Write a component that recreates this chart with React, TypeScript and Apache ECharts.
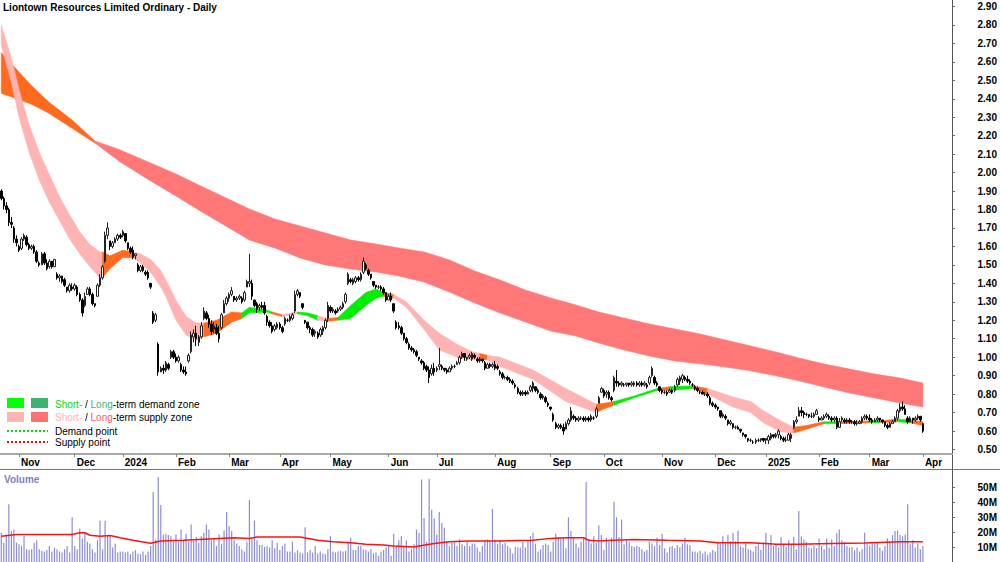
import React, { useEffect, useRef } from "react";
import * as echarts from "echarts";

const TITLE = "Liontown Resources Limited Ordinary - Daily";
const FONT = '"Liberation Sans", Arial, Helvetica, sans-serif';
const FIRST_DAY = "2023-10-23";
const LAST_DAY = "2025-04-01";
const EMPTY_SLOTS = 11;
const HOLIDAYS = [
  "2023-12-25", "2023-12-26", "2024-01-01", "2024-01-26", "2024-03-29", "2024-04-01",
  "2024-04-25", "2024-06-10", "2024-12-25", "2024-12-26", "2025-01-01", "2025-01-27",
];
const MONTHS = ["Jan", "Feb", "Mar", "Apr", "May", "Jun", "Jul", "Aug", "Sep", "Oct", "Nov", "Dec"];

const PRICE_TICKS = [0.5, 0.6, 0.7, 0.8, 0.9, 1.0, 1.1, 1.2, 1.3, 1.4, 1.5, 1.6, 1.7, 1.8, 1.9, 2.0, 2.1, 2.2, 2.3, 2.4, 2.5, 2.6, 2.7, 2.8, 2.9];
const VOLUME_TICKS = [10, 20, 30, 40, 50]; // millions

// daily candles in cents: [open, close, low, high]
const OHLC: number[][] = [
  [190,186,185,191],[186,182,180,187],[182,180,178,184],[180,173,171,181],[173,172,170,176],[170,164,162,171],[164,162,160,166],[160,158,157,161],[159,164,158,165],[164,166,163,167],
  [165,161,160,166],[161,159,158,162],[159,160,158,161],[160,157,156,161],[157,152,151,158],[151,150,149,152],[150,156,150,157],[156,151,150,157],[151,148,147,153],[149,152,148,153],
  [152,149,148,152],[149,153,149,153],[145,143,142,146],[143,144,141,145],[144,141,140,144],[142,139,138,143],[138,136,135,138],[136,139,135,140],[138,137,136,140],[137,139,136,140],
  [138,134,133,139],[134,131,130,135],[131,124,122,132],[128,133,127,135],[134,137,134,138],[137,134,133,138],[134,129,128,135],[129,128,127,129],[133,139,133,140],[139,143,138,145],
  [143,149,142,150],[152,166,151,168],[166,170,164,173],[163,160,158,163],[160,162,159,163],[162,164,162,165],[164,166,163,167],[166,165,164,167],[166,168,165,169],[167,163,162,167],
  [162,159,158,162],[159,157,156,160],[158,154,153,160],[155,156,153,156],[150,147,146,151],[147,149,146,150],[149,147,146,150],[146,145,144,147],[146,143,142,147],[140,138,137,140],
  [124,119,118,125],[120,123,119,124],[107,92,90,108],[92,94,92,95],[94,93,91,96],[93,97,92,98],[96,94,93,97],[100,103,99,104],[103,100,99,104],[100,98,97,102],
  [98,100,97,101],[96,93,92,97],[93,92,91,95],[92,91,90,95],[98,101,97,102],[103,112,102,114],[111,113,108,115],[113,110,106,117],[108,111,106,112],[111,117,110,119],
  [121,125,120,127],[124,121,120,125],[121,118,116,123],[118,114,112,120],[115,117,113,119],[116,113,112,118],[113,110,108,117],[116,123,115,124],[124,129,124,131],[129,132,128,133],
  [132,134,130,135],[134,136,133,138],[133,131,130,133],[131,132,130,133],[132,133,131,134],[132,130,129,133],[131,135,130,136],[138,141,138,142],[140,141,138,156],[140,133,131,142],
  [131,128,127,131],[129,126,124,130],[127,128,125,129],[128,127,126,130],[128,124,123,130],[122,119,117,123],[119,117,116,120],[117,114,113,119],[115,117,114,118],[116,118,115,119],
  [118,116,115,119],[116,114,113,117],[118,121,117,122],[120,120,119,121],[120,122,119,123],[121,123,120,124],[125,134,124,136],[134,136,133,137],[135,133,132,135],[129,127,126,129],
  [120,119,118,120],[119,116,115,119],[116,115,113,117],[115,112,111,116],[113,114,111,115],[113,111,110,114],[112,115,111,116],[114,116,112,117],[116,120,115,121],[121,128,119,130],
  [127,125,124,128],[125,126,124,127],[125,124,123,126],[125,126,124,127],[126,127,125,128],[127,129,126,130],[130,134,129,135],[140,145,139,146],[142,141,140,143],[140,142,139,143],
  [141,143,140,144],[143,142,141,144],[142,145,141,146],[146,152,145,154],[150,148,147,151],[147,145,144,148],[145,143,142,145],[141,139,138,141],[139,138,137,139],[138,138,137,139],
  [138,137,136,139],[137,135,134,138],[135,131,130,135],[131,133,131,134],[133,131,130,135],[129,125,124,129],[119,116,115,120],[117,116,115,119],[116,113,112,117],[113,110,109,113],
  [110,108,107,111],[107,105,104,108],[105,104,103,106],[104,103,102,105],[103,101,100,104],[100,99,98,100],[98,97,96,99],[97,94,93,98],[95,93,92,96],[93,89,86,95],
  [91,94,90,96],[94,92,90,97],[93,94,92,95],[95,96,93,105],[95,94,93,96],[94,93,92,94],[93,92,91,94],[92,94,92,95],[94,95,93,96],[95,95,94,96],
  [96,97,96,98],[97,100,96,101],[100,102,99,103],[102,100,98,102],[99,100,98,100],[100,101,99,102],[99,102,98,103],[101,100,99,102],[99,98,97,100],[98,99,97,100],
  [99,98,97,99],[97,94,93,98],[94,96,94,97],[96,95,94,97],[95,96,94,97],[96,94,93,98],[95,94,93,96],[92,91,90,93],[91,89,88,92],[89,89,88,90],
  [89,88,87,90],[88,87,86,89],[87,86,85,88],[85,84,83,86],[83,81,80,84],[81,80,79,82],[80,81,79,82],[81,80,79,82],[80,81,80,82],[82,84,81,85],
  [83,86,81,87],[84,82,81,84],[82,81,80,83],[80,78,77,81],[78,79,77,80],[78,76,75,79],[75,74,73,76],[73,72,71,73],[69,66,65,70],[64,62,61,65],
  [62,63,61,64],[63,62,61,64],[62,60,58,64],[61,64,61,65],[64,66,63,67],[66,71,65,73],[68,67,66,69],[67,66,65,68],[66,67,65,68],[67,67,66,68],
  [67,66,65,68],[66,67,65,68],[67,66,65,68],[66,68,65,69],[67,67,66,68],[68,72,67,73],[75,78,75,79],[81,83,81,84],[82,79,78,83],[80,81,78,82],
  [81,78,77,82],[78,77,76,79],[82,89,81,90],[87,86,84,93],[86,85,84,87],[85,86,84,87],[85,85,84,86],[85,86,84,86],[86,85,84,86],[85,86,84,87],
  [85,86,84,87],[86,85,84,87],[85,86,84,87],[86,85,84,87],[85,86,84,87],[85,84,83,86],[86,89,85,90],[90,94,89,95],[89,86,85,90],[86,85,84,87],
  [84,82,81,84],[82,81,80,83],[81,81,80,82],[81,80,79,82],[81,82,81,83],[82,81,80,83],[82,84,81,85],[85,88,84,89],[87,89,85,90],[88,90,86,91],
  [89,88,87,90],[88,87,86,90],[87,86,85,88],[85,85,84,86],[84,83,82,85],[83,82,81,84],[81,81,80,82],[81,80,80,82],[80,80,79,81],[80,79,78,81],
  [78,75,74,79],[75,74,73,76],[74,73,72,75],[73,72,71,73],[71,68,67,71],[68,69,67,70],[68,67,66,69],[66,64,63,66],[64,65,63,66],[64,62,61,64],
  [62,62,61,63],[62,61,61,63],[61,60,59,61],[59,58,57,59],[58,57,56,58],[56,55,54,56],[55,55,54,56],[54,54,53,55],[54,55,53,56],[55,55,54,56],
  [55,56,54,56],[56,55,54,56],[55,56,53,56],[55,57,53,58],[56,58,55,59],[58,57,56,58],[57,58,56,59],[58,60,56,61],[57,56,55,58],[56,55,54,57],
  [55,55,54,57],[55,58,55,59],[56,58,54,59],[62,65,61,66],[65,66,64,68],[68,71,68,73],[71,70,68,73],[70,69,67,71],[69,69,68,70],[69,68,67,69],
  [68,68,67,70],[68,69,67,70],[69,71,69,72],[67,66,65,68],[66,67,66,68],[67,68,66,69],[68,69,67,70],[68,67,66,69],[67,66,65,68],[66,67,65,68],
  [67,62,61,68],[62,65,62,67],[66,67,65,68],[66,65,64,67],[65,66,64,67],[66,65,64,67],[65,65,64,66],[65,64,63,66],[64,64,63,66],[64,65,64,66],
  [65,67,64,68],[67,68,66,69],[68,67,66,69],[67,66,65,69],[66,65,64,67],[65,66,65,67],[66,67,65,68],[67,66,65,67],[66,65,64,66],[65,63,62,65],
  [63,62,61,64],[62,64,62,65],[64,65,64,66],[65,67,65,68],[67,71,66,72],[71,73,70,75],[73,72,71,76],[72,69,69,74],[67,65,64,68],[65,67,65,68],
  [67,66,64,67],[66,67,65,68],[67,68,66,69],[68,66,65,68],[64,60,59,64],
];

// daily volume, millions of shares
const VOLUME: number[] = [
  19.7,13.0,18.5,38.8,20.8,21.9,13.0,11.9,10.8,17.4, 8.6,8.0,8.6,13.0,14.6,8.6,7.5,7.1,8.0,10.8,
  7.1,9.7,8.6,7.1,6.4,8.6,10.8,6.4,30.1,10.8, 8.6,22.5,15.9,19.7,13.7,12.4,8.6,6.4,14.6,27.8,
  8.6,27.8,17.4,17.4,9.7,12.4,6.4,7.1,7.1,6.4, 7.1,5.3,7.1,8.0,5.8,5.3,7.1,4.9,7.1,10.8,
  47.2,15.2,57.2,38.4,18.5,19.0,18.1,17.4,13.7,18.5, 13.7,21.9,14.1,19.0,13.7,25.2,14.1,16.8,13.0,17.4,
  19.7,25.2,21.9,14.6,15.9,10.8,18.5,12.4,21.2,33.6, 24.1,20.8,14.6,12.4,10.8,8.6,7.1,13.7,41.7,16.8,
  27.8,14.6,11.5,11.5,10.1,10.8,9.7,14.6,9.3,13.0, 8.0,10.8,12.4,7.1,7.1,13.7,6.4,8.0,6.4,5.8,
  23.4,6.4,8.0,6.4,10.8,5.8,7.1,5.8,5.3,8.6, 17.4,7.1,6.4,7.1,7.5,7.1,7.5,13.7,16.3,8.0,
  8.0,10.8,10.8,8.6,8.0,7.1,8.6,5.8,6.4,4.2, 7.1,8.0,9.7,10.8,4.2,19.0,10.8,14.6,17.4,10.8,
  14.6,7.1,8.6,11.9,21.9,19.7,55.6,29.6,13.7,56.1, 35.1,29.2,18.5,33.6,26.3,23.0,14.1,10.8,13.0,13.7,
  10.8,15.2,11.9,10.8,13.7,10.8,12.4,12.4,9.7,7.1, 10.8,14.6,15.2,14.1,35.8,15.2,12.4,
  14.6,11.9,13.0,10.8,9.3,5.8,10.1,9.7,9.7,13.7, 9.7,14.6,17.4,19.7,12.4,7.1,8.6,11.5,12.4,11.5,
  7.1,13.7,19.0,16.8,15.9,16.3,9.3,30.1,20.8,16.3, 12.4,9.7,13.7,15.9,53.9,15.2,12.4,17.4,13.0,24.7,
  18.1,8.0,16.3,13.7,16.3,40.6,30.1,16.8,28.5,11.9, 14.6,13.7,10.8,10.1,10.8,10.1,8.6,7.1,8.0,13.7,
  12.4,10.8,16.3,11.5,19.0,9.3,6.4,10.1,10.8,9.3, 11.5,10.1,12.4,16.3,11.9,11.5,7.1,7.1,6.4,7.5,
  5.8,7.1,4.9,6.4,8.0,7.1,13.7,11.9,17.4,12.4, 18.1,14.1,19.7,14.1,21.2,10.8,9.7,12.4,8.6,8.0,
  7.1,10.8,11.9,8.0,13.0,19.7,11.9,18.1,10.8,11.9, 9.7,16.8,11.9,10.1,14.6,11.5,16.8,8.6,34.4,17.4,
  15.2,13.7,9.7,9.3,10.8,9.3,15.9,10.8,8.6,15.9, 9.7,15.2,10.8,19.7,21.9,14.6,13.7,10.8,9.7,10.1,
  8.0,9.7,7.1,8.6,19.7,11.9,10.8,12.4,12.4,13.0, 9.7,7.5,10.8,15.9,13.7,18.1,20.8,21.2,18.1,17.4,
  18.5,38.8,11.9,14.6,9.7,12.4,8.6,10.8,
];

// volume moving average, [trading-day index, millions]
const VOLUME_AVG: number[][] = [
  [0,17.4],[6,18.5],[28,18.5],[31,19.7],[33,19.7],[35,18.0],[39,17.4],[43,17.8],[47,16.3],[52,14.6],
  [59,12.6],[63,14.1],[72,14.6],[92,16.3],[98,15.9],[101,16.8],[118,16.8],[125,14.6],[131,13.7],[138,13.0],
  [144,11.9],[151,11.5],[155,10.8],[163,10.1],[165,10.8],[171,12.4],[177,13.7],[184,14.1],[197,14.1],[210,14.6],
  [217,15.9],[223,16.3],[230,16.3],[232,14.6],[236,14.1],[242,14.6],[250,15.2],[263,14.6],[276,14.1],[283,13.0],
  [296,13.0],[302,12.4],[306,11.9],[315,11.9],[328,12.4],[341,12.8],[355,13.7],[364,13.7],
];

// short-term zone edges sampled at trading-day indices; zone code applies to the following segment
const SHORT_IDX = [0,4,7,11,15,19,23,27,31,35,39,40,43,48,52,55,59,63,65,69,73,77,80,85,91,95,98,105,107,111,117,121,125,129,133,138,144,148,151,155,160,167,173,180,186,189,192,197,210,223,235,238,242,250,259,264,273,279,289,296,301,308,313,318,325,330,343,347,354,359,364];
const SHORT_UP = [2.80,2.62,2.45,2.26,2.11,1.99,1.87,1.77,1.68,1.61,1.57,1.57,1.55,1.58,1.57,1.56,1.53,1.47,1.42,1.31,1.22,1.185,1.185,1.20,1.245,1.24,1.27,1.255,1.245,1.23,1.245,1.24,1.225,1.21,1.215,1.28,1.35,1.37,1.35,1.34,1.30,1.20,1.13,1.07,1.03,1.02,1.01,1.00,0.93,0.83,0.745,0.75,0.76,0.79,0.83,0.84,0.845,0.83,0.785,0.76,0.71,0.655,0.62,0.63,0.65,0.65,0.655,0.655,0.665,0.66,0.65];
const SHORT_LO = [2.69,2.49,2.30,2.11,1.96,1.84,1.74,1.64,1.56,1.49,1.43,1.43,1.48,1.54,1.54,1.51,1.46,1.38,1.33,1.20,1.12,1.09,1.11,1.13,1.19,1.21,1.24,1.245,1.235,1.22,1.235,1.225,1.20,1.195,1.20,1.21,1.28,1.32,1.33,1.32,1.27,1.15,1.04,1.00,0.985,0.99,0.985,0.95,0.88,0.76,0.70,0.72,0.74,0.78,0.82,0.82,0.83,0.80,0.73,0.70,0.645,0.595,0.59,0.61,0.64,0.64,0.645,0.645,0.65,0.645,0.63];
const SHORT_ZONE = [
  "P","P","P","P","P","P","P","P","P","P","P",
  "O","O","O","P","P","P","P","P","P","P","P","O","O","O","G","G","G","O","P","G","G","P","O","G","G","G","G","O",
  "P","P","P","P","P","P","O","P","P","P","P","O","O","G","G","O","G","O","P","P","P","P","P","O","O","G","O","G","O","G","O","O",
];

// long-term zone edges
const LONG_IDX = [0,12,19,28,37,47,59,69,78,88,98,108,118,128,138,148,157,167,177,187,197,207,217,227,236,246,256,266,276,286,296,306,315,325,335,345,355,364];
const LONG_UP = [2.65,2.47,2.38,2.285,2.171,2.123,2.052,1.993,1.933,1.868,1.803,1.749,1.711,1.673,1.635,1.613,1.592,1.570,1.527,1.467,1.418,1.364,1.321,1.283,1.245,1.212,1.180,1.153,1.126,1.093,1.061,1.028,0.996,0.963,0.936,0.909,0.887,0.860];
const LONG_LO = [2.43,2.37,2.32,2.24,2.160,2.058,1.955,1.873,1.797,1.716,1.635,1.592,1.538,1.500,1.478,1.462,1.440,1.407,1.353,1.294,1.239,1.191,1.142,1.115,1.077,1.039,1.007,0.980,0.964,0.947,0.926,0.899,0.872,0.839,0.806,0.779,0.752,0.730];
const LONG_ZONE = ["O","O","O","O","R","R","R","R","R","R","R","R","R","R","R","R","R","R","R","R","R","R","R","R","R","R","R","R","R","R","R","R","R","R","R","R","R","R"];

const ZONE_COLORS: Record<string, string> = {
  P: "#ffb4b4",
  O: "#ff6a1f",
  G: "#00ee00",
  R: "#ff7777",
};

function buildDates(): string[] {
  const hol = new Set(HOLIDAYS);
  const out: string[] = [];
  let t = Date.parse(FIRST_DAY + "T00:00:00Z");
  const end = Date.parse(LAST_DAY + "T00:00:00Z");
  while (t <= end) {
    const d = new Date(t);
    const wd = d.getUTCDay();
    const s = d.toISOString().slice(0, 10);
    if (wd !== 0 && wd !== 6 && !hol.has(s)) out.push(s);
    t += 86400000;
  }
  let extra = 0;
  while (extra < EMPTY_SLOTS) {
    const d = new Date(t);
    const wd = d.getUTCDay();
    if (wd !== 0 && wd !== 6) {
      out.push(d.toISOString().slice(0, 10));
      extra++;
    }
    t += 86400000;
  }
  return out;
}

type Run = { color: string; pts: number[][] };

function buildRuns(idx: number[], up: number[], lo: number[], zone: string[]): Run[] {
  const runs: Run[] = [];
  let start = 0;
  for (let k = 0; k < idx.length - 1; k++) {
    const z = zone[k];
    const next = k + 1 < idx.length - 1 ? zone[k + 1] : null;
    if (next !== z) {
      const top: number[][] = [];
      const bot: number[][] = [];
      for (let j = start; j <= k + 1; j++) {
        top.push([idx[j], up[j]]);
        bot.push([idx[j], lo[j]]);
      }
      runs.push({ color: ZONE_COLORS[z], pts: top.concat(bot.reverse()) });
      start = k + 1;
    }
  }
  return runs;
}

function bandSeries(runs: Run[], z: number) {
  return {
    type: "custom",
    xAxisIndex: 0,
    yAxisIndex: 0,
    silent: true,
    z,
    renderItem: (params: any, api: any) => {
      const run = runs[params.dataIndex];
      const points = run.pts.map((p) => api.coord(p));
      return {
        type: "polygon",
        shape: { points },
        style: { fill: run.color, stroke: run.color, lineWidth: 0.6 },
      };
    },
    data: runs.map((r) => [r.pts[0][0], r.pts[0][1]]),
  };
}

export default function App() {
  const ref = useRef<HTMLDivElement>(null);

  useEffect(() => {
    document.body.style.margin = "0";
    if (!ref.current) return;
    const chart = echarts.init(ref.current, null, { renderer: "svg" });

    const dates = buildDates();
    const monthStart = dates.map((d, i) => i > 0 && d.slice(0, 7) !== dates[i - 1].slice(0, 7) && i < OHLC.length);
    const candles = OHLC.map(([o, c, l, h]) => [o / 100, c / 100, l / 100, h / 100]);
    const vols = VOLUME.map((v) => v * 1e6);
    const volAvg = VOLUME_AVG.map(([i, v]) => [i, v * 1e6]);
    const longRuns = buildRuns(LONG_IDX, LONG_UP, LONG_LO, LONG_ZONE);
    const shortRuns = buildRuns(SHORT_IDX, SHORT_UP, SHORT_LO, SHORT_ZONE);

    const pxPerUnit = 184.58;
    const priceMax = 2.9 + 6.5 / pxPerUnit;
    const priceMin = 2.9 - (454 - 6.5) / pxPerUnit;

    const legendRich = (a: string, b: string) => ({
      a: { fill: a, fontSize: 10, fontFamily: FONT },
      b: { fill: b, fontSize: 10, fontFamily: FONT },
    });

    const option: any = {
      animation: false,
      backgroundColor: "#ffffff",
      grid: [
        { left: 0, right: 48, top: 0, height: 454 },
        { left: 0, right: 48, top: 469, height: 93 },
      ],
      xAxis: [
        {
          type: "category",
          gridIndex: 0,
          data: dates,
          boundaryGap: true,
          axisLine: { show: true, lineStyle: { color: "#a8a8a8", width: 2 } },
          axisTick: {
            show: true,
            alignWithLabel: true,
            length: 3,
            interval: (i: number) => monthStart[i],
            lineStyle: { color: "#888" },
          },
          axisLabel: {
            interval: (i: number) => monthStart[i],
            formatter: (v: string) => {
              const m = Number(v.slice(5, 7));
              return m === 1 ? v.slice(0, 4) : MONTHS[m - 1];
            },
            align: "left",
            margin: 3,
            padding: [0, 0, 0, 2],
            fontSize: 10,
            fontWeight: "bold",
            fontFamily: FONT,
            color: "#000",
          },
          splitLine: { show: false },
        },
        {
          type: "category",
          gridIndex: 1,
          data: dates,
          boundaryGap: true,
          axisLine: { show: false },
          axisTick: { show: false },
          axisLabel: { show: false },
          splitLine: { show: false },
        },
      ],
      yAxis: [
        {
          type: "value",
          gridIndex: 0,
          position: "right",
          min: priceMin,
          max: priceMax,
          axisLine: { show: false },
          axisTick: { show: true, length: 3, customValues: PRICE_TICKS, lineStyle: { color: "#666" } },
          axisLabel: {
            customValues: PRICE_TICKS,
            formatter: (v: number) => v.toFixed(2),
            align: "right",
            margin: 45,
            fontSize: 10,
            fontWeight: "bold",
            fontFamily: FONT,
            color: "#000",
          },
          splitLine: { show: false },
        },
        {
          type: "value",
          gridIndex: 1,
          position: "right",
          min: 0,
          max: 62.6e6,
          axisLine: { show: false },
          axisTick: { show: true, length: 3, customValues: VOLUME_TICKS.map((v) => v * 1e6), lineStyle: { color: "#666" } },
          axisLabel: {
            customValues: VOLUME_TICKS.map((v) => v * 1e6),
            formatter: (v: number) => Math.round(v / 1e6) + "M",
            align: "right",
            margin: 45,
            fontSize: 10,
            fontWeight: "bold",
            fontFamily: FONT,
            color: "#000",
          },
          splitLine: { show: false },
        },
      ],
      series: [
        bandSeries(longRuns, 1),
        bandSeries(shortRuns, 2),
        {
          type: "candlestick",
          xAxisIndex: 0,
          yAxisIndex: 0,
          z: 3,
          barWidth: 2,
          data: candles,
          itemStyle: {
            color: "#ffffff",
            color0: "#000000",
            borderColor: "#222222",
            borderColor0: "#000000",
            borderWidth: 1,
          },
        },
        {
          type: "bar",
          xAxisIndex: 1,
          yAxisIndex: 1,
          barWidth: 1.2,
          data: vols,
          itemStyle: { color: "#8c8cd8" },
        },
        {
          type: "line",
          xAxisIndex: 1,
          yAxisIndex: 1,
          data: volAvg,
          showSymbol: false,
          lineStyle: { color: "#ff1010", width: 1.5 },
          z: 4,
        },
      ],
      graphic: [
        {
          type: "text",
          x: 3,
          y: 7,
          style: { text: TITLE, fontSize: 10, fontWeight: "bold", fontFamily: FONT, fill: "#000", verticalAlign: "middle" },
        },
        { type: "rect", shape: { x: 7, y: 398, width: 17, height: 10 }, style: { fill: "#00ff00" } },
        { type: "rect", shape: { x: 31, y: 398, width: 17, height: 10 }, style: { fill: "#3cb371" } },
        { type: "rect", shape: { x: 7, y: 412, width: 17, height: 10 }, style: { fill: "#ffb4b4" } },
        { type: "rect", shape: { x: 31, y: 412, width: 17, height: 10 }, style: { fill: "#ff7070" } },
        {
          type: "text",
          x: 55,
          y: 404,
          style: {
            text: "{a|Short-} / {b|Long}-term demand zone",
            fontSize: 10,
            fontFamily: FONT,
            fill: "#000",
            verticalAlign: "middle",
            rich: legendRich("#00e000", "#3cb371"),
          },
        },
        {
          type: "text",
          x: 55,
          y: 417,
          style: {
            text: "{a|Short-} / {b|Long}-term supply zone",
            fontSize: 10,
            fontFamily: FONT,
            fill: "#000",
            verticalAlign: "middle",
            rich: legendRich("#ffb4b4", "#ff6060"),
          },
        },
        { type: "line", shape: { x1: 7, y1: 431, x2: 48, y2: 431 }, style: { stroke: "#00dd00", lineWidth: 2, lineDash: [2, 2] } },
        { type: "line", shape: { x1: 7, y1: 442, x2: 48, y2: 442 }, style: { stroke: "#ff0000", lineWidth: 2, lineDash: [2, 2] } },
        {
          type: "text",
          x: 55,
          y: 431,
          style: { text: "Demand point", fontSize: 10, fontFamily: FONT, fill: "#000", verticalAlign: "middle" },
        },
        {
          type: "text",
          x: 55,
          y: 442,
          style: { text: "Supply point", fontSize: 10, fontFamily: FONT, fill: "#000", verticalAlign: "middle" },
        },
        {
          type: "text",
          x: 4,
          y: 479,
          style: { text: "Volume", fontSize: 10, fontWeight: "bold", fontFamily: FONT, fill: "#7f7fc0", verticalAlign: "middle" },
        },
        { type: "line", shape: { x1: 0, y1: 469.5, x2: 1000, y2: 469.5 }, style: { stroke: "#777", lineWidth: 1 } },
        { type: "line", shape: { x1: 952.5, y1: 0, x2: 952.5, y2: 562 }, style: { stroke: "#555", lineWidth: 1 } },
      ],
    };

    chart.setOption(option);
    return () => chart.dispose();
  }, []);

  return <div ref={ref} style={{ width: 1000, height: 562 }} />;
}
